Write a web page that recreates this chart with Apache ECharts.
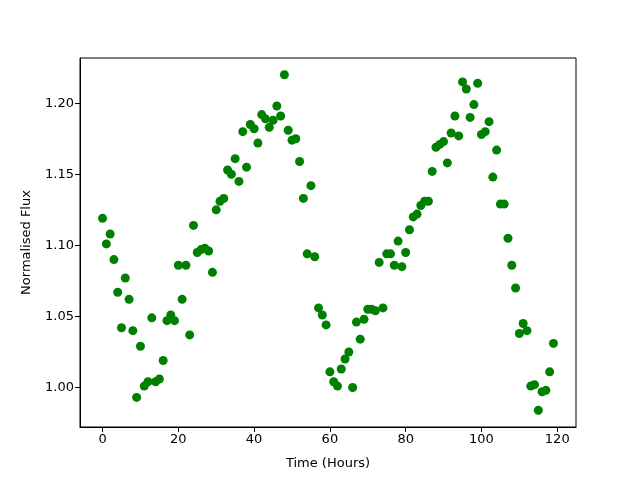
<!DOCTYPE html>
<html>
<head>
<meta charset="utf-8">
<script src="https://cdn.jsdelivr.net/npm/echarts@6/dist/echarts.min.js"></script>
<style>
  html, body { margin: 0; padding: 0; background: #fff; }
  #chart { width: 640px; height: 480px; }
</style>
</head>
<body>
<div id="chart"></div>
<script>
// heures d'observation
const hours = [];
for (let i = 0; i < 120; i++) hours.push(i);

// flux normalisé
const flux = [
    1.119, 1.101, 1.108, 1.090, 1.067, 1.042, 1.077, 1.062, 1.040, 0.993,
    1.029, 1.001, 1.004, 1.049, 1.004, 1.006, 1.019, 1.047, 1.051, 1.047,
    1.086, 1.062, 1.086, 1.037, 1.114, 1.095, 1.097, 1.098, 1.096, 1.081,
    1.125, 1.131, 1.133, 1.153, 1.150, 1.161, 1.145, 1.180, 1.155, 1.185,
    1.182, 1.172, 1.192, 1.189, 1.183, 1.188, 1.198, 1.191, 1.220, 1.181,
    1.174, 1.175, 1.159, 1.133, 1.094, 1.142, 1.092, 1.056, 1.051, 1.044,
    1.011, 1.004, 1.001, 1.013, 1.020, 1.025, 1.000, 1.046, 1.034, 1.048,
    1.055, 1.055, 1.054, 1.088, 1.056, 1.094, 1.094, 1.086, 1.103, 1.085,
    1.095, 1.111, 1.120, 1.122, 1.128, 1.131, 1.131, 1.152, 1.169, 1.171,
    1.173, 1.158, 1.179, 1.191, 1.177, 1.215, 1.210, 1.190, 1.199, 1.214,
    1.178, 1.180, 1.187, 1.148, 1.167, 1.129, 1.129, 1.105, 1.086, 1.070,
    1.038, 1.045, 1.040, 1.001, 1.002, 0.984, 0.997, 0.998, 1.011, 1.031
];

const xTicks = [0, 20, 40, 60, 80, 100, 120];
const yTicks = [1.00, 1.05, 1.10, 1.15, 1.20];

const points = hours.map((h, i) => [h, flux[i]]);

const chart = echarts.init(document.getElementById('chart'));

const fontFamily = 'DejaVu Sans';

chart.setOption({
    animation: false,
    grid: {
        left: 80, right: 64, top: 58, bottom: 53,
        show: true, borderColor: '#000', borderWidth: 1
    },
    xAxis: {
        type: 'value',
        min: -5.95,
        max: 124.95,
        name: 'Time (Hours)',
        nameLocation: 'middle',
        nameGap: 30,
        nameTextStyle: { color: '#000', fontSize: 13, fontFamily: fontFamily },
        axisLine: { show: true, onZero: false, lineStyle: { color: '#000' } },
        axisTick: { show: true, length: 5, customValues: xTicks, lineStyle: { color: '#000' } },
        axisLabel: { customValues: xTicks, color: '#000', fontSize: 13, fontFamily: fontFamily, margin: 6 },
        splitLine: { show: false }
    },
    yAxis: {
        type: 'value',
        min: 0.9722,
        max: 1.2318,
        name: 'Normalised Flux',
        nameLocation: 'middle',
        nameGap: 47,
        nameTextStyle: { color: '#000', fontSize: 13, fontFamily: fontFamily },
        axisLine: { show: true, onZero: false, lineStyle: { color: '#000' } },
        axisTick: { show: true, length: 5, customValues: yTicks, lineStyle: { color: '#000' } },
        axisLabel: {
            customValues: yTicks,
            color: '#000', fontSize: 13, fontFamily: fontFamily, margin: 6,
            formatter: v => v.toFixed(2)
        },
        splitLine: { show: false }
    },
    series: [
        {
            type: 'scatter',
            data: points,
            symbol: 'circle',
            symbolSize: 9,
            itemStyle: { color: '#008000', opacity: 1 }
        }
    ]
});
</script>
</body>
</html>
